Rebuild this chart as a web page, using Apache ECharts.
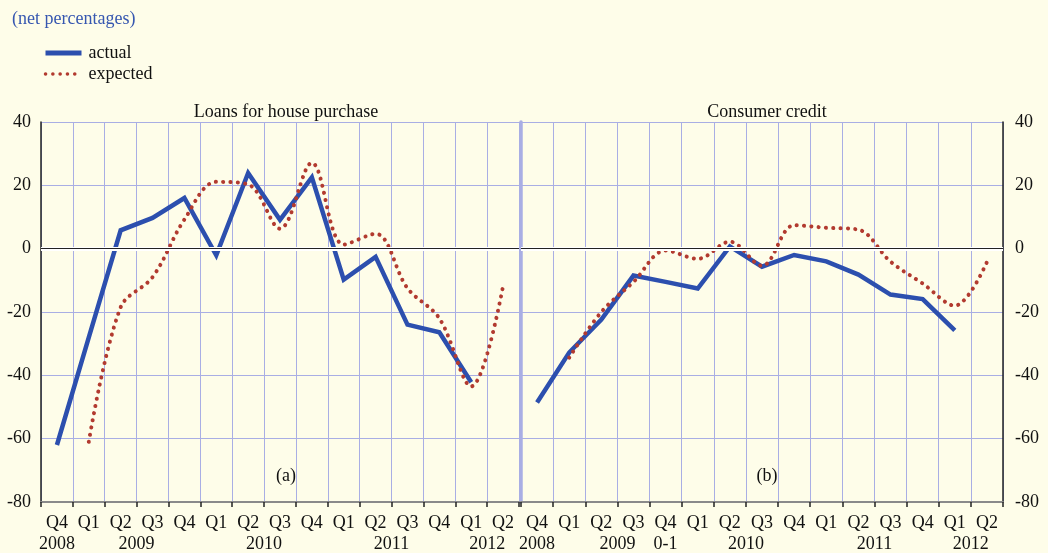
<!DOCTYPE html>
<html>
<head>
<meta charset="utf-8">
<script src="https://cdn.jsdelivr.net/npm/echarts@6/dist/echarts.min.js"></script>
<style>
  html, body { margin: 0; padding: 0; background: #fefde9; }
  #chart { width: 1048px; height: 553px; }
</style>
</head>
<body>
<div id="chart"></div>
<script>
// quarter categories, Q4 2008 .. Q2 2012
const quarters = ['Q4', 'Q1', 'Q2', 'Q3', 'Q4', 'Q1', 'Q2', 'Q3', 'Q4', 'Q1', 'Q2', 'Q3', 'Q4', 'Q1', 'Q2'];

// year labels under the quarters (position in category units)
const yearPosLeft = [0.5, 3, 7, 11, 14];
const yearTextLeft = ['2008', '2009', '2010', '2011', '2012'];
const yearPosRight = [0.5, 3, 4.5, 7, 11, 14];
const yearTextRight = ['2008', '2009', '0-1', '2010', '2011', '2012'];

const yTicks = [-80, -60, -40, -20, 0, 20, 40];

// (a) loans for house purchase
const loansActual = [-62, -28, 5.8, 9.7, 16, -2.1, 23.9, 9.1, 22.5, -9.8, -2.6, -24, -26.4, -42.2, null];
const loansExpected = [null, -61, -18.5, -9, 9.2, 21.1, 20.3, 6.3, 27.1, 1.3, 4.7, -12.5, -22, -43.5, -11.8];

// (b) consumer credit
const creditActual = [-48.6, -32.8, -22.4, -8.5, -10.5, -12.6, 0.7, -5.7, -2, -4, -8.2, -14.5, -15.9, -25.8, null];
const creditExpected = [null, -34.4, -20, -10.5, -0.6, -3.2, 2.2, -5.4, 7.4, 6.6, 6, -4.1, -11, -18, -4.2];

const FONT = 'Liberation Serif, Times New Roman, serif';
const FS = 18;
const BLUE = '#2c4fae';
const RED = '#b23a2f';
const GRIDLINE = '#a9aee4';
const DOTS = [0.1, 7.2];

function yearFormatter(pos, text) {
  return v => {
    const i = pos.findIndex(p => Math.abs(p - v) < 1e-6);
    return i >= 0 ? text[i] : '';
  };
}

function quarterAxis(gridIndex) {
  return {
    type: 'category', gridIndex, data: quarters, boundaryGap: true,
    axisLine: { onZero: false, lineStyle: { color: '#8a8a8a', width: 2 } },
    axisTick: { show: true, length: 5, lineStyle: { color: '#222', width: 1.5 } },
    axisLabel: { color: '#111', fontFamily: FONT, fontSize: FS, margin: 12, interval: 0 },
    splitLine: { show: true, interval: 0, lineStyle: { color: GRIDLINE, width: 1 } },
  };
}

function yearAxis(gridIndex, pos, text) {
  return {
    type: 'value', gridIndex, min: 0, max: 15, interval: 0.5, position: 'bottom', offset: 21,
    axisLine: { show: false, onZero: false }, axisTick: { show: false }, splitLine: { show: false },
    axisLabel: { color: '#111', fontFamily: FONT, fontSize: FS, margin: 12, formatter: yearFormatter(pos, text) },
  };
}

function valueAxis(gridIndex, position) {
  return {
    type: 'value', gridIndex, position, min: yTicks[0], max: yTicks[yTicks.length - 1], interval: 20,
    axisLine: { show: true, onZero: false, lineStyle: { color: '#222', width: 1.5 } },
    axisTick: { show: false },
    axisLabel: { color: '#111', fontFamily: FONT, fontSize: FS, margin: position === 'left' ? 10 : 12 },
    splitLine: { show: true, lineStyle: { color: GRIDLINE, width: 1 } },
  };
}

const zeroLine = {
  silent: true, symbol: 'none', label: { show: false },
  data: [
    { yAxis: 0, lineStyle: { color: '#ffffff', width: 4, type: 'solid' } },
    { yAxis: 0, lineStyle: { color: '#222', width: 1, type: 'solid' } },
  ],
};

function actualSeries(name, xi, yi, data, withZero) {
  const s = {
    name, type: 'line', xAxisIndex: xi, yAxisIndex: yi, data,
    symbol: 'none', lineStyle: { color: BLUE, width: 4.5, join: 'miter' }, itemStyle: { color: BLUE },
    z: 3,
  };
  if (withZero) s.markLine = zeroLine;
  return s;
}

function expectedSeries(name, xi, yi, data) {
  return {
    name, type: 'line', xAxisIndex: xi, yAxisIndex: yi, data, smooth: 0.35,
    symbol: 'none', lineStyle: { color: RED, width: 4, type: DOTS, cap: 'round' }, itemStyle: { color: RED },
    z: 4,
  };
}

const chart = echarts.init(document.getElementById('chart'));

chart.setOption({
  backgroundColor: '#fefde9',
  animation: false,
  title: [
    { text: '(net percentages)', left: 7, top: 5, textStyle: { color: '#3657b0', fontFamily: FONT, fontSize: FS, fontWeight: 'normal' } },
    { text: 'Loans for house purchase', left: 281, top: 98, textAlign: 'center', textStyle: { color: '#111', fontFamily: FONT, fontSize: FS, fontWeight: 'normal' } },
    { text: 'Consumer credit', left: 762, top: 98, textAlign: 'center', textStyle: { color: '#111', fontFamily: FONT, fontSize: FS, fontWeight: 'normal' } },
    { text: '(a)', left: 281, top: 462, textAlign: 'center', textStyle: { color: '#111', fontFamily: FONT, fontSize: FS, fontWeight: 'normal' } },
    { text: '(b)', left: 762, top: 462, textAlign: 'center', textStyle: { color: '#111', fontFamily: FONT, fontSize: FS, fontWeight: 'normal' } },
  ],
  legend: {
    orient: 'vertical', left: 38, top: 39, itemWidth: 36, itemHeight: 14, itemGap: 3,
    data: [
      { name: 'actual', lineStyle: { width: 5, color: BLUE } },
      { name: 'expected', lineStyle: { width: 3.5, color: RED, type: DOTS, cap: 'round' } },
    ],
    itemStyle: { opacity: 0 },
    textStyle: { color: '#111', fontFamily: FONT, fontSize: FS, padding: [0, 0, 0, 2] },
  },
  grid: [
    { left: 41, top: 122, width: 478, height: 380 },
    { left: 521, top: 122, width: 482, height: 380 },
  ],
  xAxis: [
    quarterAxis(0),
    quarterAxis(1),
    yearAxis(0, yearPosLeft, yearTextLeft),
    yearAxis(1, yearPosRight, yearTextRight),
  ],
  yAxis: [
    valueAxis(0, 'left'),
    valueAxis(1, 'right'),
    {
      // divider between the two panels
      type: 'value', gridIndex: 1, position: 'left', min: -80, max: 40,
      axisLine: { show: true, onZero: false, lineStyle: { color: GRIDLINE, width: 3.5 } },
      axisTick: { show: false }, axisLabel: { show: false }, splitLine: { show: false },
    },
  ],
  series: [
    actualSeries('actual', 0, 0, loansActual, true),
    expectedSeries('expected', 0, 0, loansExpected),
    actualSeries('actual', 1, 1, creditActual, true),
    expectedSeries('expected', 1, 1, creditExpected),
  ],
});
</script>
</body>
</html>
